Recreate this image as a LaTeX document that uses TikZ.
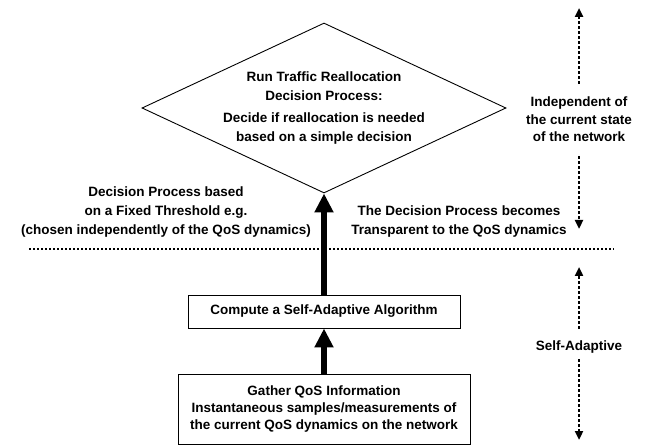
\documentclass[tikz,border=0pt]{standalone}
\usepackage{fontspec}
\setmainfont{Liberation Sans}
\usetikzlibrary{shapes.geometric, arrows.meta, positioning}

\begin{document}
\begin{tikzpicture}[
    x=1pt, y=-1pt,
    >=Triangle,
    font=\bfseries\fontsize{13.5}{19}\selectfont,
    decision/.style={draw, line width=0.9pt, diamond, aspect=2.14, minimum width=364pt, minimum height=170pt, inner sep=0pt, align=center},
    stepbox/.style={draw, line width=0.9pt, rectangle, inner sep=0pt, align=center},
    note/.style={inner sep=0pt, align=center},
    flow/.style={line width=6pt, -{Triangle[length=19pt, width=18pt]}},
    sidearrow/.style={line width=2.5pt, dash pattern=on 2.5pt off 2.5pt, -{Triangle[length=9pt, width=8pt]}},
    divider/.style={line width=2pt, dash pattern=on 2pt off 2pt}
  ]
  \useasboundingbox (0,0) rectangle (651,446);

  \node (decide) [decision] at (324,108) {Run Traffic Reallocation\\Decision Process:\\[3pt]Decide if reallocation is needed\\based on a simple decision};
  \node (compute) [stepbox, minimum width=272pt, minimum height=33pt] at (324,311.5) {Compute a Self-Adaptive Algorithm};
  \node (gather) [stepbox, minimum width=292pt, minimum height=70pt, font=\bfseries\fontsize{13.5}{17}\selectfont] at (324,409) {Gather QoS Information\\Instantaneous samples/measurements of\\the current QoS dynamics on the network};

  \node (fixed) [note] at (166,212) {Decision Process based\\on a Fixed Threshold e.g.\\(chosen independently of the QoS dynamics)};
  \node (transp) [note] at (459,221.5) {The Decision Process becomes\\Transparent to the QoS dynamics};
  \node (indep) [note, font=\bfseries\fontsize{13.5}{17.5}\selectfont] at (579,119.5) {Independent of\\the current state\\of the network};
  \node (selfad) [note] at (579,347) {Self-Adaptive};

  \coordinate (divl) at (29,249);
  \coordinate (divr) at (614,249);
  \coordinate (indtop) at (579,8);
  \coordinate (indbot) at (579,229);
  \coordinate (seltop) at (579,267);
  \coordinate (selbot) at (579,440);

  \draw[divider] (divl) -- (divr);
  \draw[flow] (compute) -- (decide);
  \draw[flow] (gather) -- (compute);
  \draw[sidearrow, shorten <=13pt] (indep) -- (indtop);
  \draw[sidearrow, shorten <=14pt] (indep) -- (indbot);
  \draw[sidearrow, shorten <=12pt] (selfad) -- (seltop);
  \draw[sidearrow, shorten <=6pt] (selfad) -- (selbot);
\end{tikzpicture}
\end{document}
